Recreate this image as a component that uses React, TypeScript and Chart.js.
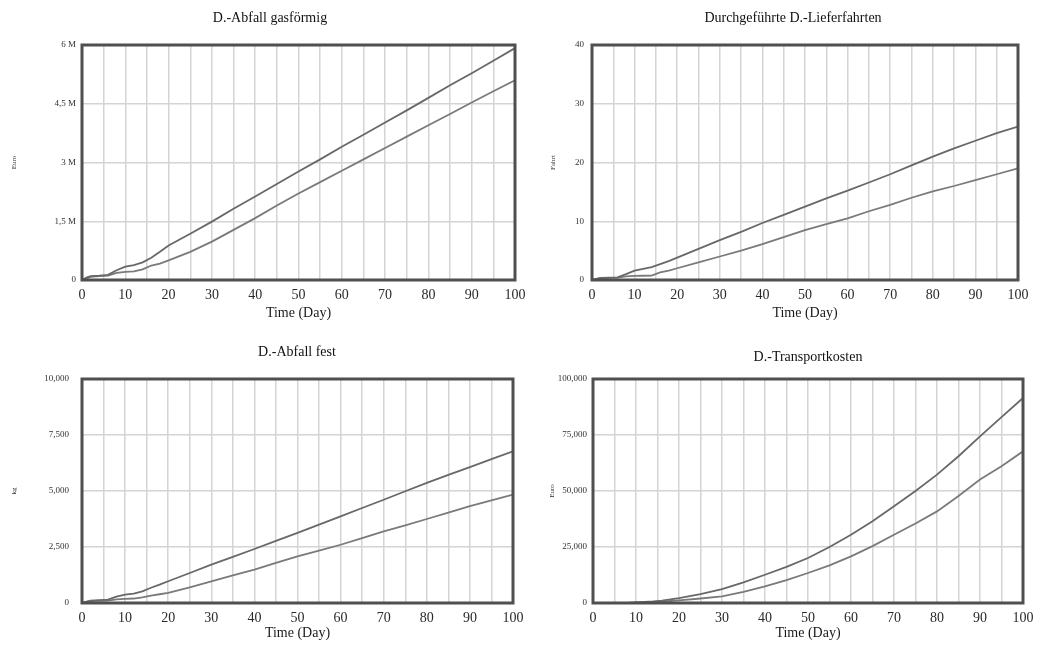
import React, { useEffect, useRef } from 'react';
import { Chart, registerables } from 'chart.js';

Chart.register(...registerables);

// ---------- data ----------
const days = [0, 1, 2, 4, 6, 8, 10, 12, 14, 16, 18, 20, 25, 30, 35, 40, 45, 50, 55, 60, 65, 70, 75, 80, 85, 90, 95, 100];

// D.-Abfall gasförmig (Mio. Euro)
const gasUpper = [0, 0.06, 0.1, 0.11, 0.13, 0.25, 0.34, 0.38, 0.45, 0.57, 0.72, 0.88, 1.18, 1.49, 1.82, 2.13, 2.45, 2.77, 3.08, 3.4, 3.71, 4.02, 4.33, 4.65, 4.97, 5.28, 5.6, 5.92];
const gasLower = [0, 0.04, 0.08, 0.1, 0.11, 0.18, 0.21, 0.22, 0.27, 0.37, 0.42, 0.5, 0.72, 0.98, 1.28, 1.58, 1.9, 2.21, 2.5, 2.79, 3.08, 3.37, 3.66, 3.95, 4.24, 4.53, 4.82, 5.1];

// Durchgeführte D.-Lieferfahrten (Fahrt)
const tripsUpper = [0, 0.2, 0.35, 0.4, 0.45, 1.0, 1.6, 1.9, 2.2, 2.7, 3.2, 3.8, 5.3, 6.8, 8.2, 9.7, 11.1, 12.5, 13.9, 15.2, 16.6, 18.0, 19.5, 21.0, 22.4, 23.7, 25.0, 26.1];
const tripsLower = [0, 0.15, 0.3, 0.35, 0.4, 0.6, 0.7, 0.72, 0.75, 1.3, 1.6, 2.0, 3.0, 4.0, 5.0, 6.1, 7.3, 8.5, 9.5, 10.5, 11.7, 12.8, 14.0, 15.1, 16.0, 17.0, 18.0, 19.0];

// D.-Abfall fest (kg)
const solidUpper = [0, 60, 110, 130, 150, 280, 370, 420, 520, 680, 820, 970, 1340, 1710, 2060, 2410, 2770, 3130, 3500, 3870, 4240, 4610, 4990, 5360, 5720, 6070, 6420, 6770];
const solidLower = [0, 40, 80, 100, 110, 160, 180, 200, 250, 330, 390, 450, 700, 970, 1230, 1490, 1790, 2080, 2340, 2600, 2900, 3200, 3470, 3750, 4030, 4320, 4580, 4840];

// D.-Transportkosten (Euro)
const costUpper = [0, 0, 0, 0, 0, 0, 300, 500, 700, 1100, 1600, 2200, 4000, 6200, 9200, 12600, 16100, 20100, 25000, 30500, 36500, 43200, 50000, 57300, 65500, 74400, 83000, 91500];
const costLower = [0, 0, 0, 0, 0, 0, 200, 300, 400, 600, 900, 1200, 2000, 3000, 5000, 7400, 10200, 13400, 16800, 20800, 25400, 30500, 35500, 40900, 47800, 55100, 61000, 67700];

const gasTicks = ['0', '1,5 M', '3 M', '4,5 M', '6 M'];
const tripsTicks = ['0', '10', '20', '30', '40'];
const solidTicks = ['0', '2,500', '5,000', '7,500', '10,000'];
const costTicks = ['0', '25,000', '50,000', '75,000', '100,000'];

const xTitle = 'Time (Day)';

// ---------- rendering ----------
const FONT = "'Liberation Serif', 'DejaVu Serif', serif";

const frame = {
  id: 'frame',
  afterDatasetsDraw(chart: any) {
    const { ctx, chartArea: a } = chart;
    ctx.save();
    ctx.strokeStyle = '#4f4f4f';
    ctx.lineWidth = 3;
    ctx.strokeRect(a.left, a.top, a.right - a.left, a.bottom - a.top);
    ctx.restore();
  },
};

type PanelProps = {
  title: string;
  unit: string;
  upper: number[];
  lower: number[];
  yMax: number;
  yTicks: string[];
  left: number;
  top: number;
  height: number;
  titleCenterX: number;
  plotLeft: number;
  plotRight: number;
  plotTop: number;
  plotBottom: number;
  titleCenter: number;
  xTitleCenter: number;
  unitX: number;
  yTickPad: number;
  xLabelPad: number;
};

function Panel(p: PanelProps) {
  const ref = useRef<HTMLCanvasElement>(null);
  const width = Math.round(2 * (p.titleCenterX - p.left));
  const pr = p.plotRight - p.left;
  const pl = p.plotLeft - p.left;
  const pt = p.plotTop - p.top;
  const pb = p.plotBottom - p.top;
  useEffect(() => {
    if (!ref.current) return;
    const titleSize = 14;
    const titleLH = titleSize * 1.2;
    const xTitleSize = 14;
    const unitSize = 7;
    const tc = p.titleCenter - p.top;
    const xtc = p.xTitleCenter - p.top;
    const ux = p.unitX - p.left;
    const chart = new Chart(ref.current, {
      type: 'line',
      data: {
        datasets: [
          {
            data: days.map((d, i) => ({ x: d, y: p.upper[i] })),
            borderColor: '#686868',
            borderWidth: 1.8,
            pointRadius: 0,
            tension: 0,
          },
          {
            data: days.map((d, i) => ({ x: d, y: p.lower[i] })),
            borderColor: '#7a7a7a',
            borderWidth: 1.8,
            pointRadius: 0,
            tension: 0,
          },
        ],
      },
      options: {
        responsive: false,
        animation: false,
        devicePixelRatio: 1,
        layout: { padding: 0 },
        plugins: {
          legend: { display: false },
          tooltip: { enabled: false },
          title: {
            display: true,
            text: p.title,
            fullSize: true,
            color: '#111',
            font: { family: FONT, size: titleSize, weight: 'normal' },
            padding: {
              top: tc - titleLH / 2,
              bottom: pt - (tc + titleLH / 2),
            },
          },
        },
        scales: {
          x: {
            type: 'linear',
            min: 0,
            max: 100,
            ticks: {
              stepSize: 5,
              autoSkip: false,
              maxRotation: 0,
              color: '#2a2a2a',
              padding: p.xLabelPad,
              font: { family: FONT, size: 14 },
              callback: (v: any) => (Number(v) % 10 === 0 ? String(v) : ''),
            },
            grid: { color: '#d4d4d4', lineWidth: 1.5, drawTicks: false },
            border: { display: false },
            title: {
              display: true,
              text: xTitle,
              color: '#1a1a1a',
              font: { family: FONT, size: xTitleSize },
              padding: { top: 0, bottom: p.height - xtc - (xTitleSize * 1.2) / 2 },
            },
            afterFit: (s: any) => {
              s.height = p.height - pb;
            },
          },
          y: {
            min: 0,
            max: p.yMax,
            ticks: {
              stepSize: p.yMax / 4,
              color: '#333',
              padding: p.yTickPad,
              font: { family: FONT, size: 9 },
              callback: (_v: any, i: number) => p.yTicks[i],
            },
            grid: { color: '#d4d4d4', lineWidth: 1.5, drawTicks: false },
            border: { display: false },
            title: {
              display: true,
              text: p.unit,
              color: '#333',
              font: { family: FONT, size: unitSize },
              padding: { top: ux - (unitSize * 1.2) / 2, bottom: 0 },
            },
            afterFit: (s: any) => {
              s.width = pl;
            },
          },
          yR: {
            position: 'right',
            display: true,
            ticks: { display: false },
            grid: { display: false },
            border: { display: false },
            afterFit: (s: any) => {
              s.width = width - pr;
            },
          },
        },
      } as any,
      plugins: [frame],
    });
    return () => chart.destroy();
  }, []);
  return (
    <canvas
      ref={ref}
      width={width}
      height={p.height}
      style={{ position: 'absolute', left: p.left, top: p.top, width, height: p.height }}
    />
  );
}

export default function App() {
  return (
    <div style={{ position: 'fixed', left: 0, top: 0, width: 1048, height: 646, background: '#fff', overflow: 'hidden' }}>
      <Panel
        title="D.-Abfall gasförmig"
        unit="Euro"
        upper={gasUpper}
        lower={gasLower}
        yMax={6}
        yTicks={gasTicks}
        left={0}
        top={0}
        height={325}
        titleCenterX={270}
        plotLeft={82}
        plotRight={515}
        plotTop={45}
        plotBottom={280}
        titleCenter={18}
        xTitleCenter={313}
        unitX={14}
        yTickPad={6}
        xLabelPad={7}
      />
      <Panel
        title="Durchgeführte D.-Lieferfahrten"
        unit="Fahrt"
        upper={tripsUpper}
        lower={tripsLower}
        yMax={40}
        yTicks={tripsTicks}
        left={530}
        top={0}
        height={325}
        titleCenterX={793}
        plotLeft={592}
        plotRight={1018}
        plotTop={45}
        plotBottom={280}
        titleCenter={18}
        xTitleCenter={313}
        unitX={553}
        yTickPad={8}
        xLabelPad={7}
      />
      <Panel
        title="D.-Abfall fest"
        unit="kg"
        upper={solidUpper}
        lower={solidLower}
        yMax={10000}
        yTicks={solidTicks}
        left={0}
        top={325}
        height={321}
        titleCenterX={297}
        plotLeft={82}
        plotRight={513}
        plotTop={379}
        plotBottom={603}
        titleCenter={352}
        xTitleCenter={633}
        unitX={14}
        yTickPad={13}
        xLabelPad={7}
      />
      <Panel
        title="D.-Transportkosten"
        unit="Euro"
        upper={costUpper}
        lower={costLower}
        yMax={100000}
        yTicks={costTicks}
        left={530}
        top={325}
        height={321}
        titleCenterX={808}
        plotLeft={593}
        plotRight={1023}
        plotTop={379}
        plotBottom={603}
        titleCenter={357}
        xTitleCenter={633}
        unitX={552}
        yTickPad={6}
        xLabelPad={7}
      />
    </div>
  );
}
